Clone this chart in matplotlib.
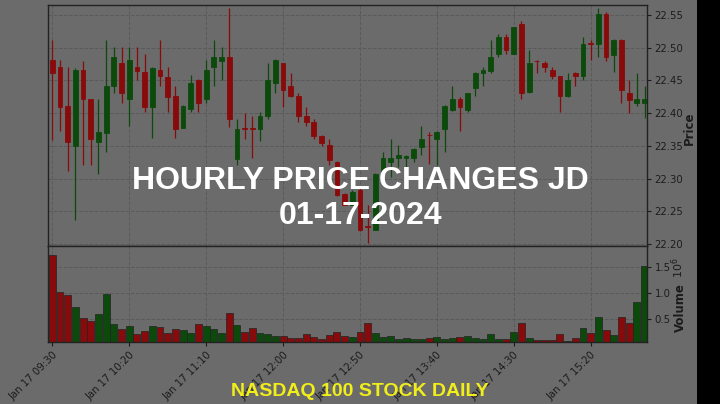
import numpy as np
import matplotlib
matplotlib.use('Agg')
import matplotlib.pyplot as plt
from matplotlib.patches import Rectangle

# 5-minute candles, JD, 17 Jan 2024
opens = [22.481, 22.471, 22.411, 22.350, 22.466, 22.421, 22.356, 22.370, 22.441, 22.476,
         22.421, 22.471, 22.462, 22.410, 22.466, 22.455, 22.426, 22.378, 22.406, 22.451,
         22.421, 22.471, 22.480, 22.486, 22.330, 22.377, 22.377, 22.376, 22.395, 22.446,
         22.476, 22.442, 22.426, 22.396, 22.386, 22.365, 22.351, 22.326, 22.277, 22.260,
         22.283, 22.227, 22.222, 22.308, 22.325, 22.331, 22.332, 22.331, 22.348, 22.367,
         22.360, 22.376, 22.405, 22.421, 22.405, 22.438, 22.461, 22.465, 22.491, 22.516,
         22.491, 22.536, 22.432, 22.480, 22.476, 22.466, 22.456, 22.426, 22.461, 22.456,
         22.507, 22.506, 22.551, 22.489, 22.512, 22.430, 22.415, 22.415]
highs = [22.512, 22.481, 22.471, 22.469, 22.480, 22.422, 22.421, 22.512, 22.501, 22.501,
         22.501, 22.501, 22.491, 22.470, 22.512, 22.471, 22.441, 22.412, 22.458, 22.452,
         22.481, 22.512, 22.501, 22.560, 22.391, 22.400, 22.395, 22.401, 22.476, 22.482,
         22.477, 22.461, 22.430, 22.410, 22.391, 22.366, 22.360, 22.327, 22.278, 22.283,
         22.288, 22.260, 22.309, 22.340, 22.360, 22.351, 22.336, 22.346, 22.380, 22.371,
         22.372, 22.412, 22.441, 22.425, 22.431, 22.462, 22.471, 22.511, 22.521, 22.521,
         22.531, 22.540, 22.497, 22.481, 22.480, 22.471, 22.457, 22.461, 22.462, 22.516,
         22.512, 22.560, 22.555, 22.513, 22.513, 22.451, 22.461, 22.441]
lows = [22.359, 22.372, 22.311, 22.236, 22.321, 22.321, 22.307, 22.341, 22.430, 22.416,
        22.380, 22.451, 22.401, 22.362, 22.442, 22.401, 22.362, 22.377, 22.401, 22.401,
        22.416, 22.441, 22.451, 22.379, 22.321, 22.360, 22.331, 22.357, 22.391, 22.430,
        22.410, 22.425, 22.386, 22.380, 22.360, 22.350, 22.321, 22.273, 22.259, 22.259,
        22.220, 22.201, 22.221, 22.298, 22.303, 22.318, 22.318, 22.325, 22.336, 22.323,
        22.321, 22.341, 22.403, 22.372, 22.401, 22.426, 22.442, 22.461, 22.486, 22.490,
        22.490, 22.421, 22.431, 22.461, 22.462, 22.452, 22.401, 22.425, 22.441, 22.451,
        22.481, 22.486, 22.480, 22.463, 22.416, 22.400, 22.411, 22.392]
closes = [22.461, 22.410, 22.356, 22.466, 22.421, 22.360, 22.371, 22.442, 22.486, 22.430,
          22.481, 22.465, 22.410, 22.469, 22.456, 22.424, 22.376, 22.411, 22.446, 22.416,
          22.466, 22.486, 22.485, 22.391, 22.376, 22.376, 22.376, 22.396, 22.451, 22.481,
          22.435, 22.426, 22.395, 22.386, 22.365, 22.355, 22.329, 22.275, 22.260, 22.280,
          22.221, 22.226, 22.307, 22.331, 22.331, 22.336, 22.334, 22.345, 22.360, 22.366,
          22.371, 22.411, 22.421, 22.410, 22.430, 22.461, 22.466, 22.485, 22.516, 22.496,
          22.531, 22.430, 22.476, 22.479, 22.471, 22.456, 22.426, 22.451, 22.456, 22.506,
          22.506, 22.551, 22.485, 22.512, 22.435, 22.420, 22.421, 22.421]
# volume in millions of shares
volumes = [1.74, 1.03, 0.965, 0.727, 0.515, 0.463, 0.598, 0.978, 0.412, 0.309,
           0.373, 0.219, 0.277, 0.367, 0.347, 0.238, 0.315, 0.290, 0.225, 0.412,
           0.367, 0.315, 0.238, 0.618, 0.386, 0.245, 0.334, 0.238, 0.219, 0.174,
           0.174, 0.141, 0.141, 0.206, 0.148, 0.110, 0.199, 0.245, 0.180, 0.154,
           0.257, 0.418, 0.238, 0.154, 0.174, 0.122, 0.135, 0.116, 0.122, 0.135,
           0.154, 0.116, 0.129, 0.154, 0.174, 0.135, 0.116, 0.219, 0.122, 0.110,
           0.257, 0.425, 0.135, 0.097, 0.097, 0.097, 0.212, 0.077, 0.141, 0.334,
           0.238, 0.534, 0.296, 0.199, 0.534, 0.431, 0.830, 1.531]
tick_labels = ['Jan 17 09:30', 'Jan 17 10:20', 'Jan 17 11:10', 'Jan 17 12:00',
               'Jan 17 12:50', 'Jan 17 13:40', 'Jan 17 14:30', 'Jan 17 15:20']
price_ticks = [22.20, 22.25, 22.30, 22.35, 22.40, 22.45, 22.50, 22.55]
volume_ticks = [0.5, 1.0, 1.5]

# colours (whole picture is dimmed)
bg = '#6b6b6b'
up = '#0c4a0c'
down = '#880a0a'
grid_c = '#5a5a5a'
txt_c = '#1c1c1c'

o = np.array(opens)
h = np.array(highs)
l = np.array(lows)
c = np.array(closes)
v = np.array(volumes)
x = np.arange(len(o))
colors = np.where(c >= o, up, down)

fig = plt.figure(figsize=(7.2, 4.04), dpi=100, facecolor=bg)
ax = fig.add_axes([0.0667, 0.391, 0.832, 0.5965], facecolor=bg)
axv = fig.add_axes([0.0667, 0.1535, 0.832, 0.2376], facecolor=bg, sharex=ax)

# candles
ax.vlines(x, l, h, colors=colors, linewidth=0.9, zorder=2)
body = np.abs(c - o)
ax.bar(x, np.maximum(body, 0.0008), bottom=np.minimum(o, c), width=0.62,
       color=colors, edgecolor=colors, linewidth=0.6, zorder=3)

# volume
axv.bar(x, v, width=0.9, color=colors, edgecolor='#222222', linewidth=0.5, zorder=2)

ax.set_xlim(-0.56, 77.33)
ax.set_ylim(22.197, 22.565)
axv.set_ylim(0.058, 1.91)

for a in (ax, axv):
    a.yaxis.tick_right()
    a.grid(True, color=grid_c, linestyle='--', linewidth=0.7, zorder=0)
    a.tick_params(colors=txt_c, labelsize=7.3, length=3, width=0.8, pad=2.5)
    for s in a.spines.values():
        s.set_color('#222222')
        s.set_linewidth(1.0)

ax.set_yticks(price_ticks)
ax.set_yticklabels(['%.2f' % p for p in price_ticks])
ax.tick_params(axis='x', labelbottom=False, length=0)
axv.set_yticks(volume_ticks)
axv.set_yticklabels(['%.1f' % t for t in volume_ticks])
axv.set_xticks(np.arange(0, len(o), 10)[:len(tick_labels)])
axv.set_xticklabels(tick_labels, rotation=45, ha='right', rotation_mode='anchor')

ax.yaxis.set_label_position('right')
ax.set_ylabel('Price', color=txt_c, fontsize=8.5, fontweight='bold')
ax.yaxis.set_label_coords(1.06, 0.49)
axv.yaxis.set_label_position('right')
axv.set_ylabel('Volume', color=txt_c, fontsize=8.5, fontweight='bold')
axv.yaxis.set_label_coords(1.045, 0.36)
fig.text(0.941, 0.338, '$10^6$', rotation=90, color=txt_c, fontsize=8,
         ha='center', va='center')

# black strip on the right
fig.patches.append(Rectangle((0.968, 0), 0.032, 1, transform=fig.transFigure,
                             facecolor='black', edgecolor='none', zorder=5))

# overlay captions
fig.text(0.5, 0.552, 'HOURLY PRICE CHANGES JD', color='white', fontsize=23,
         fontweight='bold', family='Liberation Sans', ha='center', va='center')
fig.text(0.5, 0.465, '01-17-2024', color='white', fontsize=23,
         fontweight='bold', family='Liberation Sans', ha='center', va='center')
fig.text(0.5, 0.032, 'NASDAQ 100 STOCK DAILY', color='#f2ee1a', fontsize=14,
         fontweight='bold', family='Liberation Sans', ha='center', va='center')

fig.savefig('out.png', dpi=100, facecolor=bg)
